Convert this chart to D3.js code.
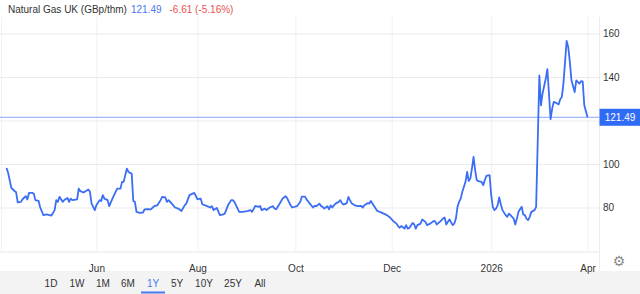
<!DOCTYPE html>
<html>
<head>
<meta charset="utf-8">
<script src="https://cdn.jsdelivr.net/npm/d3@7"></script>
<style>
  body { margin: 0; background: #fff; }
  svg { display: block; font-family: 'Liberation Sans', Arial, sans-serif; }
  .axis text { font-size: 10px; fill: #333; }
</style>
</head>
<body>
<svg width="640" height="294"></svg>
<script>
// trading-day position and price (GBp/thm)
const day = [0, 1, 3, 5, 6, 7, 9, 10, 12, 13, 14, 16, 17, 18, 20, 21, 23, 25, 28, 30,
  31, 32, 33, 35, 36, 38, 39, 40, 41, 44, 45, 46, 48, 51, 52, 53, 55, 56, 58, 59,
  60, 61, 63, 64, 66, 68, 69, 71, 72, 73, 75, 76, 77, 78, 79, 80, 81, 83, 85, 86,
  88, 90, 92, 94, 96, 97, 99, 100, 101, 103, 105, 107, 109, 111, 112, 114, 116, 117, 119, 121,
  122, 125, 127, 128, 129, 131, 133, 135, 136, 138, 140, 141, 142, 144, 145, 147, 150, 152, 153, 155,
  157, 158, 159, 161, 162, 164, 166, 167, 168, 170, 172, 174, 175, 177, 178, 181, 183, 184, 186, 187,
  188, 189, 191, 192, 193, 195, 196, 197, 198, 200, 201, 202, 203, 204, 205, 207, 208, 209, 210, 212,
  213, 214, 215, 217, 219, 221, 222, 223, 225, 226, 227, 228, 230, 231, 233, 235, 237, 239, 241, 243,
  244, 245, 246, 248, 249, 250, 251, 253, 254, 255, 256, 258, 259, 261, 262, 264, 266, 267, 268, 270,
  272, 273, 274, 275, 276, 278, 279, 280, 281, 282, 283, 284, 286, 287, 288, 289, 290, 291, 292, 293,
  294, 296, 297, 298, 299, 301, 302, 303, 304, 305, 306, 307, 308, 309, 311, 312, 313, 314, 316, 317,
  318, 319, 321, 322, 323, 324, 325, 326, 327, 329, 330, 332, 333, 334, 336, 337, 339, 340, 341, 342,
  344, 345, 346, 347, 349, 350, 351, 352, 354, 355, 357, 358, 359, 360, 362];
const price = [98.2, 96, 89, 87.6, 87, 82.4, 82.6, 83.8, 85.2, 83.7, 86.7, 86.7, 86.4, 83.4, 83, 80, 76.5, 76.8, 76.3, 78.8,
  83.4, 82.6, 84.9, 82.6, 83.4, 84.4, 82.6, 84.1, 83.4, 83.7, 88.7, 87.5, 86.9, 88.3, 87.2, 81.8, 78.8, 81, 83.4, 83,
  85.7, 84.1, 83.4, 80.6, 84.1, 87.2, 88.7, 88.7, 91.8, 91.8, 97.9, 96.4, 95.9, 95.6, 83, 82.6, 78, 77.5, 77.7, 79.1,
  79.2, 79.1, 80.6, 81, 83.4, 84.9, 84.6, 82.6, 83.4, 81.8, 80, 79.5, 78.4, 81, 81.8, 85.7, 86.4, 86.7, 83.8, 84.1,
  81.5, 80.6, 80, 80.6, 78.8, 79.8, 76.5, 76.8, 77.2, 81, 83.4, 83.4, 82.6, 79.5, 78, 78, 78.3, 78.8, 78, 80.7,
  80.3, 80.7, 78.8, 79.5, 78.8, 80, 80.6, 79.5, 79.2, 81.5, 84.1, 85.2, 84.1, 81, 80, 80.6, 82.5, 85, 85, 83.6,
  82.8, 81.8, 80, 80.8, 80.6, 81.8, 80.6, 80.3, 79.5, 80.6, 79.2, 81, 80, 81, 81.8, 82.6, 83.4, 82, 81.3, 82,
  84.9, 83.4, 82, 81, 80.6, 80.7, 80, 81, 82, 81.8, 83, 81.8, 79.5, 78.4, 77.9, 77.2, 76.5, 75.4, 73.7, 72.6,
  71.4, 70.7, 71.5, 70.3, 71.9, 70.3, 70.6, 72.9, 72.3, 70.3, 71.9, 72.6, 74.5, 73.4, 71.9, 72.6, 73.7, 73.7, 72.2, 73.4,
  74.9, 75.4, 72.2, 73.4, 74.5, 71.9, 72.6, 74.9, 80.3, 82.6, 84.1, 87.2, 91.8, 96.4, 92.2, 93.3, 97.9, 103.3, 97.1, 92.6,
  92.1, 91.8, 90.3, 92.6, 94.5, 94.9, 85.7, 80.3, 78.8, 79.5, 81, 84.6, 81.5, 78.8, 76.5, 75.7, 77.2, 76.5, 74.9, 72.2,
  74.9, 78, 80.3, 76.8, 76.5, 74.9, 74.2, 75.7, 78, 78.8, 80.3, 140.8, 127, 132.4, 139.3, 143.6, 120.6, 125.5, 128.6, 128.3,
  127.4, 129.8, 130.8, 137, 156.6, 153.8, 147, 138.5, 133.1, 138.5, 137, 138.1, 138, 127, 121.49];

const lastPrice = 121.49;
const changeText = '-6.61 (-5.16%)';
const titleText = 'Natural Gas UK (GBp/thm)';

const xTickDays = [56, 119, 180, 240, 302, 362];
const xTickLabels = ['Jun', 'Aug', 'Oct', 'Dec', '2026', 'Apr'];
const yGrid = [80, 100, 120, 140, 160];
const yLabels = ['80', '100', '', '140', '160']; // 120 sits under the last-price box
const ranges = ['1D', '1W', '1M', '6M', '1Y', '5Y', '10Y', '25Y', 'All'];
const rangeX = [51, 77, 103, 128, 153, 177, 204, 233, 260];
const activeRange = '1Y';

const svg = d3.select('svg');
const width = +svg.attr('width');
const height = +svg.attr('height');

const plotRight = 599;
const plotTop = 17;
const plotBottom = 251;
const lineColor = '#3b6ef5';

const x = d3.scaleLinear().domain([0, 362]).range([6.5, 587.5]);
const y = d3.scaleLinear().domain([60, 167.6]).range([plotBottom, plotTop]);

// bottom range selector bar
svg.append('rect')
  .attr('x', 0).attr('y', 271)
  .attr('width', width).attr('height', height - 271)
  .attr('fill', '#f3f3f3');

// frame lines
svg.append('line')
  .attr('x1', 0).attr('x2', plotRight)
  .attr('y1', plotBottom + 1).attr('y2', plotBottom + 1)
  .attr('stroke', '#e6e6e6');
svg.append('line')
  .attr('x1', plotRight + 0.5).attr('x2', plotRight + 0.5)
  .attr('y1', plotTop).attr('y2', 271)
  .attr('stroke', '#ececec');
svg.append('line')
  .attr('x1', 1.5).attr('x2', 1.5)
  .attr('y1', plotTop).attr('y2', plotBottom)
  .attr('stroke', '#f2f2f2');

// x axis with vertical gridlines
const xAxisG = svg.append('g')
  .attr('class', 'axis')
  .attr('transform', `translate(0,${plotBottom})`)
  .call(d3.axisBottom(x)
    .tickValues(xTickDays)
    .tickFormat((d, i) => xTickLabels[i])
    .tickSize(-(plotBottom - plotTop))
    .tickPadding(6));
xAxisG.select('.domain').remove();
xAxisG.selectAll('.tick line').attr('stroke', '#f0f0f0');
xAxisG.selectAll('.tick text').attr('y', 13.5);

// y axis on the right with horizontal gridlines
const yAxisG = svg.append('g')
  .attr('class', 'axis')
  .attr('transform', `translate(${plotRight},0)`)
  .call(d3.axisRight(y)
    .tickValues(yGrid)
    .tickFormat((d, i) => yLabels[i])
    .tickSize(-plotRight)
    .tickPadding(4));
yAxisG.select('.domain').remove();
yAxisG.selectAll('.tick line').attr('stroke', '#ebebeb');

// last price line
svg.append('line')
  .attr('x1', 0).attr('x2', plotRight)
  .attr('y1', y(lastPrice)).attr('y2', y(lastPrice))
  .attr('stroke', '#8aa6f7').attr('stroke-width', 1);

// price line
const line = d3.line()
  .x((d, i) => x(day[i]))
  .y(d => y(d));
svg.append('path')
  .datum(price)
  .attr('fill', 'none')
  .attr('stroke', lineColor)
  .attr('stroke-width', 1.8)
  .attr('stroke-linejoin', 'round')
  .attr('d', line);

// last price label box
svg.append('rect')
  .attr('x', plotRight + 0.5).attr('y', y(lastPrice) - 8.5)
  .attr('width', width - plotRight).attr('height', 17)
  .attr('fill', '#2f6bf5');
svg.append('text')
  .attr('x', 620).attr('y', y(lastPrice))
  .attr('dy', '0.35em')
  .attr('text-anchor', 'middle')
  .attr('font-size', 10)
  .attr('fill', '#fff')
  .text(lastPrice.toFixed(2));

// title
const title = svg.append('text')
  .attr('x', 8).attr('y', 13)
  .attr('font-size', 10);
title.append('tspan').attr('fill', '#333').text(titleText);
title.append('tspan').attr('fill', '#4a78f0').attr('dx', 4).text(lastPrice.toFixed(2));
title.append('tspan').attr('fill', '#e8534f').attr('dx', 8).text(changeText);

// gear icon
svg.append('text')
  .attr('x', 619).attr('y', 261)
  .attr('dy', '0.35em')
  .attr('text-anchor', 'middle')
  .attr('font-family', 'DejaVu Sans')
  .attr('font-size', 14)
  .attr('fill', '#8a8a8a')
  .text('\u2699');

// range buttons
svg.selectAll('.btn').data(ranges)
  .enter().append('text')
    .attr('class', 'btn')
    .attr('x', (d, i) => rangeX[i])
    .attr('y', 287)
    .attr('text-anchor', 'middle')
    .attr('font-size', 10)
    .attr('fill', d => d === activeRange ? '#4a78f0' : '#333')
    .text(d => d);
const activeX = rangeX[ranges.indexOf(activeRange)];
svg.append('rect')
  .attr('x', activeX - 12).attr('y', 291.5)
  .attr('width', 24).attr('height', 2)
  .attr('fill', '#4a78f0');
</script>
</body>
</html>
